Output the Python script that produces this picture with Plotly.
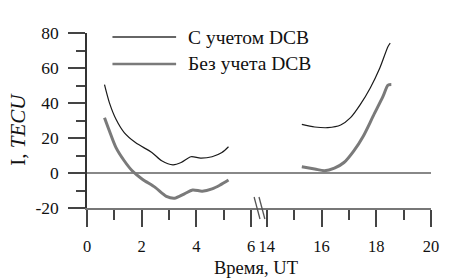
import plotly.graph_objects as go

# ---- data (hours UT, TECU) ----
hours_dcb_morning = [0.64, 0.82, 1.06, 1.36, 1.77, 2.37, 2.73, 3.14, 3.44, 3.8, 4.15, 4.57, 4.93, 5.17]
tec_dcb_morning = [50.5, 40.1, 30.7, 23.1, 17.4, 11.7, 7.0, 4.7, 6.0, 9.3, 8.5, 9.3, 11.7, 15.0]
hours_dcb_evening = [15.28, 15.75, 16.23, 16.7, 17.06, 17.42, 17.78, 18.13, 18.43, 18.51]
tec_dcb_evening = [27.8, 26.3, 25.9, 27.4, 31.6, 39.2, 48.6, 60.0, 72.3, 74.2]

hours_nodcb_morning = [0.64, 0.82, 1.06, 1.36, 1.65, 2.01, 2.49, 2.9, 3.2, 3.56, 3.86, 4.21, 4.57, 4.87, 5.17]
tec_nodcb_morning = [31.6, 24.0, 14.5, 7.0, 1.3, -3.4, -8.2, -13.3, -14.4, -11.9, -9.7, -10.4, -9.1, -6.8, -4.0]
hours_nodcb_evening = [15.28, 15.75, 16.11, 16.47, 16.82, 17.18, 17.53, 17.89, 18.25, 18.43, 18.55]
tec_nodcb_evening = [3.6, 2.3, 1.3, 2.8, 6.0, 12.7, 21.2, 32.6, 43.9, 50.2, 50.6]

x_major = [0, 2, 4, 6, 14, 16, 18, 20]
x_minor = [1, 3, 5, 15, 17, 19]
y_major = [-20, 0, 20, 40, 60, 80]
y_minor = [-10, 10, 30, 50, 70]
series_names = ["С учетом DCB", "Без учета DCB"]

# broken axis: hours 6..14 collapsed to a small gap
BREAK_LO, BREAK_HI, GAP = 6, 14, 0.57


def bx(h):
    return h if h <= BREAK_LO else h - BREAK_HI + BREAK_LO + GAP


def seg(xa, ya, xb, yb):
    return [bx(v) for v in xa] + [None] + [bx(v) for v in xb], list(ya) + [None] + list(yb)


FONT = "Liberation Serif"
fig = go.Figure()

x1, y1 = seg(hours_dcb_morning, tec_dcb_morning, hours_dcb_evening, tec_dcb_evening)
x2, y2 = seg(hours_nodcb_morning, tec_nodcb_morning, hours_nodcb_evening, tec_nodcb_evening)
fig.add_trace(go.Scatter(x=x1, y=y1, mode="lines", name=series_names[0], showlegend=False,
                         line=dict(color="#1a1a1a", width=1.2, shape="spline", smoothing=0.8)))
fig.add_trace(go.Scatter(x=x2, y=y2, mode="lines", name=series_names[1], showlegend=False,
                         line=dict(color="#7a7a7a", width=3, shape="spline", smoothing=0.8)))

xr = [0, bx(20)]
fig.update_layout(
    width=449, height=278,
    margin=dict(l=87, r=10, t=33, b=70),
    paper_bgcolor="white", plot_bgcolor="white",
    font=dict(family=FONT, size=17, color="#111"),
    xaxis=dict(range=xr, showgrid=False, zeroline=False,
               showline=True, linecolor="#777", linewidth=2,
               tickmode="array", tickvals=[bx(v) for v in x_major], ticktext=[str(v) for v in x_major],
               tickfont=dict(family=FONT, size=16.5),
               ticks="outside", ticklen=17, tickwidth=1.5, tickcolor="#444",
               minor=dict(tickmode="array", tickvals=[bx(v) for v in x_minor],
                          ticks="outside", ticklen=10, tickwidth=1.5, tickcolor="#444"),
               ticklabelstandoff=5),
    yaxis=dict(range=[-20, 80], showgrid=False,
               zeroline=True, zerolinecolor="#888", zerolinewidth=2,
               showline=True, linecolor="#333", linewidth=1.5,
               tickmode="array", tickvals=y_major, ticktext=[str(v) for v in y_major],
               tickfont=dict(family=FONT, size=17.5),
               ticks="outside", ticklen=17, tickwidth=1.5, tickcolor="#444",
               minor=dict(tickmode="array", tickvals=y_minor,
                          ticks="outside", ticklen=9, tickwidth=1.5, tickcolor="#444"),
               ticklabelstandoff=6),
)

# axis titles
fig.add_annotation(text="Время, UT", xref="paper", yref="paper", x=0.491, y=-0.343,
                   xanchor="center", yanchor="middle",
                   showarrow=False, font=dict(family=FONT, size=18.5, color="#111"))
fig.add_annotation(text="I, <i>TECU</i>", xref="paper", yref="paper", x=-0.199, y=0.45,
                   xanchor="center", yanchor="middle",
                   textangle=-90, showarrow=False, font=dict(family=FONT, size=21, color="#111"))

# legend (manual)
leg_y = [0.977, 0.823]
leg_style = [dict(color="#333", width=1.5), dict(color="#7a7a7a", width=2.5)]
for name, yy, st in zip(series_names, leg_y, leg_style):
    fig.add_shape(type="line", xref="paper", yref="paper", x0=0.074, x1=0.259, y0=yy, y1=yy, line=st)
    fig.add_annotation(text=name, xref="paper", yref="paper", x=0.287, y=yy,
                       xanchor="left", yanchor="middle",
                       showarrow=False, font=dict(family=FONT, size=19.5, color="#111"))

# axis break marks
for dx in (0, 5):
    fig.add_shape(type="line", xref="paper", yref="paper",
                  x0=(258 + dx - 87) / 352, x1=(264 + dx - 87) / 352,
                  y0=(208 - 197) / 175, y1=(208 - 219) / 175,
                  line=dict(color="#555", width=1.3))

fig.write_html("out.html", config={"displayModeBar": False},
               post_script="document.body.style.margin='0';")
